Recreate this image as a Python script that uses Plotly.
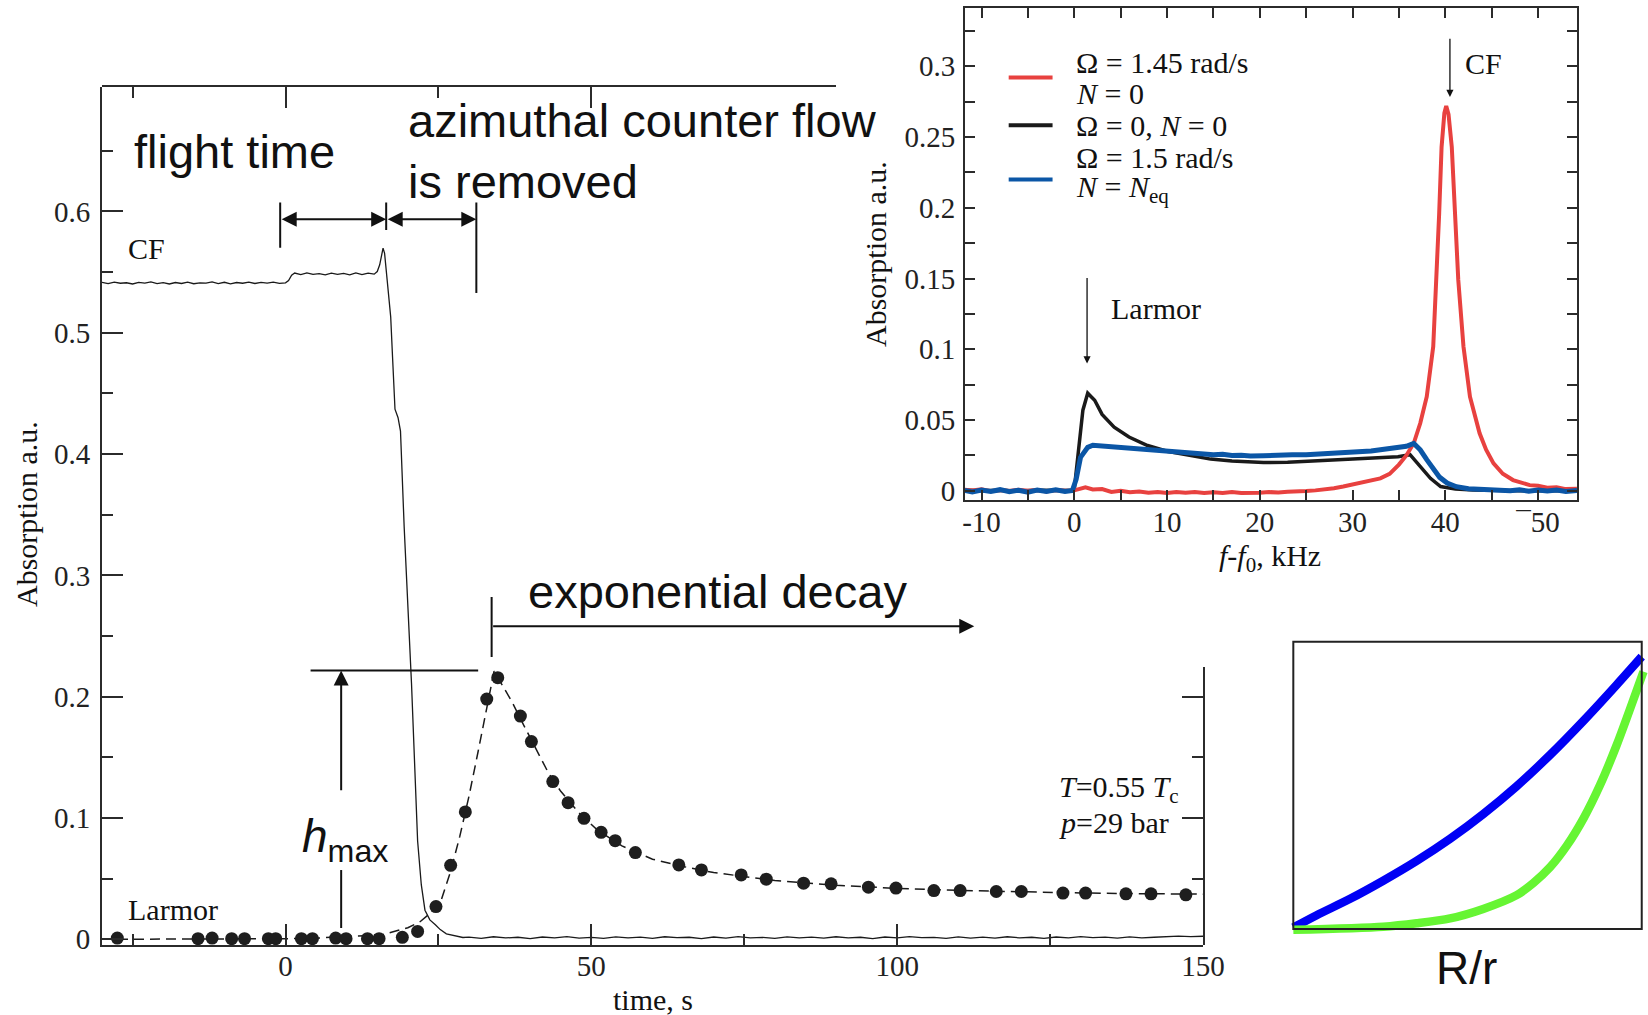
import plotly.graph_objects as go

W, H = 1648, 1015
SERIF = "Liberation Serif"
SANS = "Liberation Sans"
INK = "#1a1a1a"
AX = "#2b2b2b"

# ---------------- main chart: CF absorption trace (time, s -> absorption) -------------
CF_T = [-30, -29, -28, -27, -26, -25, -24, -23, -22, -21, -20, -19, -18, -17, -16, -15,
        -14, -13, -12, -11, -10, -9, -8, -7, -6, -5, -4, -3, -2, -1, 0,
        0.5, 1.0, 1.5, 2.5, 3.5, 4.5, 5.5, 6.5, 7.5, 8.5, 9.5, 10.5, 11.5, 12.5, 13.5, 14.5,
        15.0, 15.4, 15.7, 15.95, 16.2, 16.6, 17.2, 17.5, 17.9, 18.4, 18.8, 19.4, 20.6, 21.6,
        22.2, 22.8, 23.6, 24.5, 25.3, 26.3, 27.5, 29.0,
        30, 32, 34, 36, 38, 40, 42, 44, 46, 48, 50, 52, 54, 56, 58, 60, 62, 64, 66, 68, 70,
        72, 74, 76, 78, 80, 82, 84, 86, 88, 90, 92, 94, 96, 98, 100, 102, 104, 106, 108, 110,
        112, 114, 116, 118, 120, 122, 124, 126, 128, 130, 132, 134, 136, 138, 140, 142, 144,
        146, 148, 150]
CF_A = [0.5415, 0.5405, 0.5418, 0.5408, 0.5412, 0.5402, 0.5416, 0.5409, 0.5419, 0.5405,
        0.5413, 0.5402, 0.5414, 0.5406, 0.5418, 0.5404, 0.5412, 0.5409, 0.5419, 0.5405,
        0.5416, 0.5403, 0.5414, 0.5408, 0.5417, 0.5406, 0.5415, 0.5409, 0.5418, 0.5407, 0.5412,
        0.543, 0.5475, 0.5492, 0.548, 0.5493, 0.5482, 0.5488, 0.5478, 0.5492, 0.5481, 0.5489,
        0.5477, 0.5494, 0.548, 0.5491, 0.5483,
        0.5505, 0.556, 0.563, 0.5698, 0.5655, 0.545, 0.513, 0.48, 0.437, 0.430, 0.419, 0.340,
        0.211, 0.081, 0.045, 0.024, 0.016, 0.012, 0.008, 0.0045, 0.003, 0.0015,
        0.0018, 0.0008, 0.0021, 0.0011, 0.0017, 0.0006, 0.0019, 0.0012, 0.0022, 0.0009, 0.0016,
        0.0007, 0.0020, 0.0011, 0.0018, 0.0008, 0.0021, 0.0013, 0.0017, 0.0006, 0.0019, 0.0010,
        0.0022, 0.0012, 0.0016, 0.0007, 0.0020, 0.0011, 0.0018, 0.0009, 0.0021, 0.0012, 0.0017,
        0.0006, 0.0019, 0.0011, 0.0022, 0.0013, 0.0016, 0.0008, 0.0020, 0.0010, 0.0018, 0.0009,
        0.0021, 0.0012, 0.0017, 0.0007, 0.0019, 0.0011, 0.0022, 0.0013, 0.0018, 0.0009, 0.0020,
        0.0012, 0.0017, 0.0021, 0.0026, 0.0022, 0.0025]

# Larmor peak height (dots) and dashed fit
DOT_T = [-27.5, -14.3, -12.0, -8.8, -6.7, -2.8, -1.6, 2.6, 4.4, 8.2, 9.9, 13.4, 15.3, 19.1,
         21.6, 24.6, 27.0, 29.4, 32.9, 34.7, 38.4, 40.2, 43.7, 46.2, 48.8, 51.6, 53.9, 57.2,
         64.3, 68.0, 74.5, 78.6, 84.7, 89.2, 95.3, 99.8, 106.0, 110.3, 116.2, 120.3, 127.1,
         130.8, 137.4, 141.5, 147.2]
DOT_A = [0.001, 0.0005, 0.001, 0.0005, 0.0005, 0.0005, 0.0005, 0.0005, 0.0005, 0.001, 0.0005,
         0.0005, 0.0005, 0.0016, 0.0065, 0.027, 0.061, 0.105, 0.198, 0.2157, 0.184, 0.163,
         0.130, 0.1126, 0.0997, 0.0882, 0.0813, 0.0715, 0.0613, 0.0572, 0.0531, 0.0496, 0.0463,
         0.0457, 0.0430, 0.0422, 0.0402, 0.0402, 0.0394, 0.0394, 0.0381, 0.0381, 0.0375,
         0.0375, 0.0367]
FIT_T = [-30, -20, -10, 0, 5, 10, 13, 16, 18, 20, 22, 24, 25.5, 27, 28.5, 30, 31.5, 33, 34.1,
         35.5, 37, 39, 41, 43, 45, 48, 51, 55, 60, 65, 70, 75, 80, 90, 100, 110, 120, 130, 140, 150]
FIT_A = [0.0, 0.0, 0.0002, 0.0005, 0.001, 0.002, 0.003, 0.004, 0.0065, 0.0095, 0.0145, 0.023,
         0.033, 0.056, 0.085, 0.118, 0.155, 0.195, 0.221, 0.209, 0.196, 0.176, 0.156, 0.137,
         0.122, 0.104, 0.090, 0.077, 0.066, 0.060, 0.055, 0.052, 0.0485, 0.0445, 0.042, 0.0403,
         0.039, 0.0382, 0.0376, 0.0372]

MAIN_XTICKS = [0, 50, 100, 150]
MAIN_XTICKTEXT = ["0", "50", "100", "150"]
MAIN_XMINOR = [-25, 25, 75, 125]
MAIN_YTICKS = [0, 0.1, 0.2, 0.3, 0.4, 0.5, 0.6]
MAIN_YTICKTEXT = ["0", "0.1", "0.2", "0.3", "0.4", "0.5", "0.6"]
MAIN_YMINOR = [0.05, 0.15, 0.25, 0.35, 0.45, 0.55, 0.65]

# ---------------- inset: spectra (f - f0, kHz -> absorption) -------------------------
RED_F = [-11.8, -11, -10, -9, -8, -7, -6, -5, -4, -3, -2, -1, 0, 0.5, 1.2, 2, 3, 4, 5, 6, 7, 8,
         9, 10, 11, 12, 13, 14, 15, 16, 17, 18, 19, 20, 21, 22, 23, 24, 25, 26, 27, 28, 29, 30,
         31, 32, 33, 34, 35, 35.8, 36.6, 37.3, 38.0, 38.7, 39.06, 39.34, 39.6, 39.9, 40.1,
         40.35, 40.7, 41.06, 41.4, 41.96, 42.66, 43.7, 44.4, 45.2, 46.2, 47.3, 48.2, 49.1, 50,
         51, 52, 53, 54.2]
RED_A = [0.0008, 0.0002, 0.001, -0.0003, 0.0005, -0.0002, 0.0008, 0.0, 0.0006, -0.0004, 0.0005,
         0.0, 0.0003, 0.0015, 0.0025, 0.001, 0.0012, -0.0008, 0.0, -0.001, -0.0005, -0.0013,
         -0.0008, -0.0015, -0.0009, -0.0014, -0.0008, -0.0016, -0.001, -0.0015, -0.0009, -0.0016,
         -0.0011, -0.0013, -0.0009, -0.0012, -0.0006, -0.0007, -0.0002, 0.0003, 0.0008, 0.0018,
         0.003, 0.0045, 0.0055, 0.0072, 0.0088, 0.012, 0.0185, 0.025, 0.0336, 0.0477, 0.0665,
         0.102, 0.149, 0.196, 0.243, 0.267, 0.272, 0.266, 0.243, 0.196, 0.149, 0.102, 0.0665,
         0.0406, 0.029, 0.0194, 0.012, 0.0076, 0.0055, 0.004, 0.0035, 0.0022, 0.0025, 0.0012,
         0.0015]
BLACK_F = [-11.8, -10, -8, -6, -4, -2, -0.2, 0.0, 0.2, 0.41, 0.93, 1.45, 2.2, 3.0, 4.3, 5.9,
           7.9, 10, 12, 14.7, 17, 20.4, 23, 25, 28, 30.2, 33, 34.9, 36.2, 37.3, 38.4, 39.5,
           41.1, 43, 45, 48, 51, 54.2]
BLACK_A = [0.0005, 0.0, 0.0004, -0.0002, 0.0004, 0.0, 0.0002, 0.001, 0.012, 0.028, 0.057,
           0.069, 0.064, 0.054, 0.045, 0.038, 0.032, 0.028, 0.0255, 0.0224, 0.021, 0.020,
           0.0202, 0.0208, 0.0218, 0.0224, 0.0235, 0.024, 0.0255, 0.017, 0.0088, 0.003, 0.0012,
           0.0005, 0.0002, 0.0, 0.0003, 0.0]
BLUE_F = [-11.8, -11, -10, -9, -8, -7, -6, -5, -4, -3, -2, -1, -0.2, 0.2, 0.67, 1.45, 2.0, 2.75,
          3.5, 4.5, 5.5, 6.9, 8, 9, 10, 11, 12, 13, 14, 15, 16, 17, 18, 19, 20.4, 21.5, 22.5,
          23.5, 25, 26, 27, 28, 29, 30.2, 31, 32, 33, 34, 34.9, 35.8, 36.6, 37.3, 38.0, 38.7,
          39.4, 40.2, 41.2, 42.5, 44, 45, 46, 47, 48, 49, 50, 51, 52, 53, 54.2]
BLUE_A = [0.0003, -0.0008, 0.0006, -0.0004, 0.0008, -0.0006, 0.0004, -0.0009, 0.0005, -0.0005,
          0.0007, -0.0004, 0.0002, 0.008, 0.0236, 0.0307, 0.0322, 0.0318, 0.031, 0.0312, 0.03,
          0.0295, 0.0292, 0.0282, 0.0278, 0.027, 0.0268, 0.026, 0.0258, 0.0255, 0.0258, 0.025,
          0.0252, 0.0246, 0.0248, 0.0252, 0.0249, 0.0254, 0.0255, 0.0258, 0.0262, 0.0265,
          0.0268, 0.0271, 0.0278, 0.0282, 0.029, 0.0296, 0.0302, 0.0315, 0.0335, 0.029, 0.022,
          0.0155, 0.0095, 0.0055, 0.0029, 0.0015, 0.0012, 0.0004, 0.0009, 0.0, 0.0007, -0.0003,
          0.0006, -0.0002, 0.0005, -0.0004, 0.0002]

INSET_XTICKS = [-10, 0, 10, 20, 30, 40, 50]
INSET_XTICKTEXT = ["-10", "0", "10", "20", "30", "40", "\u00af50"]
INSET_XMINOR = [-5, 5, 15, 25, 35, 45]
INSET_YTICKS = [0, 0.05, 0.1, 0.15, 0.2, 0.25, 0.3]
INSET_YTICKTEXT = ["0", "0.05", "0.1", "0.15", "0.2", "0.25", "0.3"]
INSET_YMINOR = [0.025, 0.075, 0.125, 0.175, 0.225, 0.275, 0.325]

LEGEND_LABELS = ["\u03a9 = 1.45 rad/s", "<i>N</i> = 0", "\u03a9 = 0, <i>N</i> = 0",
                 "\u03a9 = 1.5 rad/s", "<i>N</i> = <i>N</i><sub>eq</sub>"]

# ---------------- sketch: R/r ------------------------------------------------------
RR_BLUE_X = [0.0, 0.067, 0.163, 0.258, 0.354, 0.45, 0.545, 0.641, 0.737, 0.833, 0.928, 1.0]
RR_BLUE_Y = [0.005, 0.048, 0.105, 0.168, 0.237, 0.314, 0.400, 0.497, 0.606, 0.725, 0.850, 0.948]
RR_GREEN_X = [0.0, 0.258, 0.354, 0.45, 0.545, 0.641, 0.689, 0.737, 0.785, 0.833, 0.880, 0.928,
              1.005]
RR_GREEN_Y = [-0.003, 0.008, 0.020, 0.037, 0.070, 0.118, 0.160, 0.215, 0.290, 0.385, 0.500,
              0.640, 0.896]

RED = "#E8413F"
BLUE = "#0B56A6"
BLACK = "#1a1a1a"

# ---------------- geometry (pixels -> paper) ----------------------------------------
def px_x(p):
    return p / W

def px_y(p):
    return (H - p) / H

MAIN_XDOM = [px_x(102), px_x(1203)]
MAIN_YDOM = [px_y(945), px_y(86.5)]
MAIN_XR = [-30, 150]
MAIN_YR = [-0.0047, 0.703]

fig = go.Figure()

# main traces
fig.add_trace(go.Scatter(x=CF_T, y=CF_A, mode="lines", line=dict(color=INK, width=1.3),
                         xaxis="x", yaxis="y", showlegend=False, hoverinfo="skip"))
fig.add_trace(go.Scatter(x=FIT_T, y=FIT_A, mode="lines",
                         line=dict(color=INK, width=1.5, dash="10px,6px"),
                         xaxis="x", yaxis="y", showlegend=False, hoverinfo="skip"))
fig.add_trace(go.Scatter(x=DOT_T, y=DOT_A, mode="markers",
                         marker=dict(color="#1e1e1e", size=13),
                         xaxis="x", yaxis="y", showlegend=False, cliponaxis=False))

# inset traces
fig.add_trace(go.Scatter(x=BLACK_F, y=BLACK_A, mode="lines", line=dict(color=BLACK, width=3.5),
                         xaxis="x2", yaxis="y2", showlegend=False))
fig.add_trace(go.Scatter(x=RED_F, y=RED_A, mode="lines", line=dict(color=RED, width=4),
                         xaxis="x2", yaxis="y2", showlegend=False))
fig.add_trace(go.Scatter(x=BLUE_F, y=BLUE_A, mode="lines", line=dict(color=BLUE, width=5),
                         xaxis="x2", yaxis="y2", showlegend=False))

# sketch traces
fig.add_trace(go.Scatter(x=RR_BLUE_X, y=RR_BLUE_Y, mode="lines",
                         line=dict(color="#0000F5", width=8.5, shape="spline", smoothing=0.8),
                         xaxis="x3", yaxis="y3", showlegend=False))
fig.add_trace(go.Scatter(x=RR_GREEN_X, y=RR_GREEN_Y, mode="lines",
                         line=dict(color="#66F533", width=8.5, shape="spline", smoothing=0.8),
                         xaxis="x3", yaxis="y3", showlegend=False))

# empty traces to instantiate partial-frame subplots
fig.add_trace(go.Scatter(x=[], y=[], xaxis="x4", yaxis="y4", showlegend=False))
fig.add_trace(go.Scatter(x=[], y=[], xaxis="x5", yaxis="y5", showlegend=False))

tickfont = dict(family=SERIF, size=29, color="#222")

common = dict(showgrid=False, zeroline=False, showline=True, linecolor=AX, linewidth=2,
              ticks="inside", tickcolor=AX, tickwidth=2, tickfont=tickfont, automargin=False)
nofont = {k: v for k, v in common.items() if k != "tickfont"}

layout = dict(
    template="none",
    width=W, height=H, autosize=False,
    margin=dict(l=0, r=0, t=0, b=0, pad=0, autoexpand=False),
    paper_bgcolor="white", plot_bgcolor="rgba(0,0,0,0)",
    showlegend=False,
    xaxis=dict(domain=MAIN_XDOM, range=MAIN_XR, anchor="y", ticklen=21,
               tickmode="array", tickvals=MAIN_XTICKS, ticktext=MAIN_XTICKTEXT,
               minor=dict(tickmode="array", tickvals=MAIN_XMINOR, ticks="inside", ticklen=11,
                          tickwidth=2, tickcolor=AX),
               ticklabelstandoff=-6, **common),
    yaxis=dict(domain=MAIN_YDOM, range=MAIN_YR, anchor="x", ticklen=21,
               tickmode="array", tickvals=MAIN_YTICKS, ticktext=MAIN_YTICKTEXT,
               minor=dict(tickmode="array", tickvals=MAIN_YMINOR, ticks="inside", ticklen=11,
                          tickwidth=2, tickcolor=AX),
               ticklabelstandoff=4, **common),
    # inset
    xaxis2=dict(domain=[px_x(965), px_x(1577)], range=[-11.78, 54.2], anchor="y2",
                mirror="allticks", ticklen=10, tickmode="array", tickvals=INSET_XTICKS,
                ticktext=INSET_XTICKTEXT,
                minor=dict(tickmode="array", tickvals=INSET_XMINOR, ticks="inside", ticklen=10,
                           tickwidth=1.5, tickcolor=AX),
                ticklabelstandoff=-5,
                **{**common, "tickwidth": 1.5}),
    yaxis2=dict(domain=[px_y(500), px_y(8.3)], range=[-0.0065, 0.341], anchor="x2",
                mirror="allticks", ticklen=10, tickmode="array", tickvals=INSET_YTICKS,
                ticktext=INSET_YTICKTEXT,
                minor=dict(tickmode="array", tickvals=INSET_YMINOR, ticks="inside", ticklen=10,
                           tickwidth=1.5, tickcolor=AX),
                ticklabelstandoff=2,
                **{**common, "tickwidth": 1.5}),
    # sketch
    xaxis3=dict(domain=[px_x(1283), 1.0], range=[-0.0296, 1.018], anchor="y3", visible=False,
                automargin=False),
    yaxis3=dict(domain=[px_y(945), px_y(620)], range=[-0.0557, 1.0755], anchor="x3",
                visible=False, automargin=False),
    # partial top frame of main chart
    xaxis4=dict(domain=[px_x(102), px_x(836)], range=[-30, 90], anchor="y4", side="top",
                showticklabels=False, ticklen=21, tickmode="array", tickvals=[0, 50],
                minor=dict(tickmode="array", tickvals=[-25, 25], ticks="inside", ticklen=11,
                           tickwidth=2, tickcolor=AX),
                **nofont),
    yaxis4=dict(domain=[0.5, MAIN_YDOM[1]], range=[0, 1], anchor="x4", visible=False,
                automargin=False),
    # partial right frame of main chart
    xaxis5=dict(domain=MAIN_XDOM, range=MAIN_XR, anchor="y5", visible=False, automargin=False),
    yaxis5=dict(domain=[px_y(945), px_y(667)], range=[-0.0047, 0.2245], anchor="x5",
                side="right", showticklabels=False, ticklen=21, tickmode="array",
                tickvals=[0.1, 0.2],
                minor=dict(tickmode="array", tickvals=[0.05, 0.15], ticks="inside", ticklen=11,
                           tickwidth=2, tickcolor=AX),
                **nofont),
)
fig.update_layout(**layout)

shapes = []

def seg(x0, y0, x1, y1, xref="x", yref="y", width=2, color="#111"):
    shapes.append(dict(type="line", x0=x0, y0=y0, x1=x1, y1=y1, xref=xref, yref=yref,
                       line=dict(color=color, width=width)))

# main chart markers of intervals
seg(-0.87, 0.570, -0.87, 0.6073)
seg(16.46, 0.5848, 16.46, 0.6073)
seg(31.2, 0.5328, 31.2, 0.6073)
seg(33.7, 0.2327, 33.7, 0.2822)
seg(4.1, 0.2216, 31.5, 0.2216)
seg(9.1, 0.0093, 9.1, 0.0571)

# inset legend samples
seg(-7.07, 0.2921, -2.34, 0.2921, "x2", "y2", 4, RED)
seg(-7.07, 0.2584, -2.34, 0.2584, "x2", "y2", 4, BLACK)
seg(-7.07, 0.2200, -2.34, 0.2200, "x2", "y2", 4, BLUE)

# sketch frame
shapes.append(dict(type="rect", x0=0, y0=0, x1=1, y1=1, xref="x3", yref="y3",
                   line=dict(color="#222", width=2), layer="above"))
fig.update_layout(shapes=shapes)

ann = []

def arrow(x, y, ax, ay, xref="x", yref="y", both=False, width=2, size=1.5):
    ann.append(dict(x=x, y=y, ax=ax, ay=ay, xref=xref, yref=yref, axref=xref, ayref=yref,
                    text="", showarrow=True, arrowhead=2, arrowsize=size, arrowwidth=width,
                    arrowcolor="#111", arrowside="end+start" if both else "end",
                    standoff=0, startstandoff=0))

def txt(x, y, s, size, family, xref="x", yref="y", xanchor="left", yanchor="middle",
        angle=0, color="#111"):
    ann.append(dict(x=x, y=y, text=s, xref=xref, yref=yref, xanchor=xanchor, yanchor=yanchor,
                    showarrow=False, textangle=angle,
                    font=dict(family=family, size=size, color=color)))

# arrows (main)
arrow(16.46, 0.5936, -0.87, 0.5936, both=True)
arrow(31.2, 0.5936, 16.46, 0.5936, both=True)
arrow(112.6, 0.258, 33.7, 0.258)
arrow(9.1, 0.2216, 9.1, 0.1217)
# arrows (inset)
arrow(40.5, 0.2784, 40.5, 0.3206, "x2", "y2", width=1.3, size=1.1)
arrow(1.38, 0.090, 1.38, 0.1515, "x2", "y2", width=1.3, size=1.1)

# big sans annotations
txt(-25.1, 0.6495, "flight time", 47, SANS)
txt(19.62, 0.6746, "azimuthal counter flow", 47, SANS)
txt(19.62, 0.6246, "is removed", 47, SANS)
txt(39.3, 0.2868, "exponential decay", 47, SANS)
txt(2.3, 0.082, "<i>h</i><sub>max</sub>", 46, SANS)
txt(px_x(1466), px_y(968), "R/r", 46, SANS, "paper", "paper", "center")

# serif labels in main chart
txt(-22.7, 0.5692, "CF", 30, SERIF, xanchor="center")
txt(-18.4, 0.0242, "Larmor", 30, SERIF, xanchor="center")
txt(126.2, 0.1238, "<i>T</i>=0.55 <i>T</i><sub>c</sub>", 30, SERIF)
txt(126.2, 0.0965, "<i>p</i>=29 bar", 30, SERIF)

# axis titles
txt(px_x(26), px_y(514), "Absorption a.u.", 30, SERIF, "paper", "paper", "center", angle=-90)
txt(px_x(653), px_y(999), "time, s", 30, SERIF, "paper", "paper", "center")
txt(px_x(876), px_y(254), "Absorption a.u.", 30, SERIF, "paper", "paper", "center", angle=-90)
txt(px_x(1270), px_y(558), "<i>f</i>-<i>f</i><sub>0</sub>, kHz", 30, SERIF, "paper", "paper",
    "center")

# inset labels
txt(41.9, 0.3022, "CF", 30, SERIF, "x2", "y2")
txt(3.78, 0.129, "Larmor", 30, SERIF, "x2", "y2")
LEGEND_Y = [0.3030, 0.2810, 0.2582, 0.2356, 0.2134]
for lab, ly in zip(LEGEND_LABELS, LEGEND_Y):
    txt(0.0, ly, lab, 30, SERIF, "x2", "y2")

fig.update_layout(annotations=ann)

fig.write_html("out.html")
